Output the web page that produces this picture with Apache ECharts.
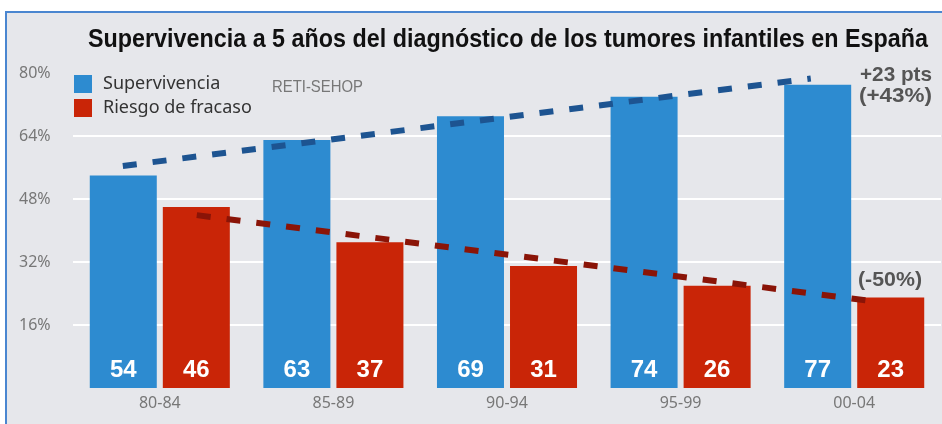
<!DOCTYPE html>
<html>
<head>
<meta charset="utf-8">
<script src="https://cdn.jsdelivr.net/npm/echarts@6/dist/echarts.min.js"></script>
<style>
html,body{margin:0;padding:0;background:#fff;}
#c{width:942px;height:424px;}
</style>
</head>
<body>
<div id="c"></div>
<script>
const categories = ['80-84', '85-89', '90-94', '95-99', '00-04'];
const supervivencia = [54, 63, 69, 74, 77];
const riesgo = [46, 37, 31, 26, 23];
const yTicks = [0, 16, 32, 48, 64, 80];
// trend annotations: [category position, value]
const trendSurv = [[0.287, 56.4], [4.25, 78.6]];
const trendRisk = [[0.713, 43.9], [4.65, 21.8]];
const titleText = 'Supervivencia a 5 años del diagnóstico de los tumores infantiles en España';
const sourceText = 'RETI-SEHOP';
const noteSurv = ['+23 pts', '(+43%)'];
const noteRisk = '(-50%)';

const sans = '"Liberation Sans", Arial, sans-serif';
const ctx = document.createElement('canvas').getContext('2d');
function fitText(text, font, width, left, midY, fill) {
  ctx.font = font;
  const w = ctx.measureText(text).width;
  return {type: 'text', x: left, y: midY, scaleX: width / w, originX: 0,
    style: {text: text, font: font, fill: fill, textVerticalAlign: 'middle'}};
}

const chart = echarts.init(document.getElementById('c'), null, {renderer: 'canvas'});
const gridLeft = 73, gridTop = 73, gridBottom = 36, gridRight = 1;

chart.setOption({
  backgroundColor: '#ffffff',
  animation: false,
  graphic: [
    {type: 'rect', z: -10, silent: true, shape: {x: 6, y: 12, width: 945, height: 420},
     style: {fill: '#e6e7eb', stroke: '#4a86d0', lineWidth: 2}},
    fitText(titleText, 'bold 25px ' + sans, 840, 88, 40, '#111'),
    fitText(sourceText, '17px ' + sans, 91, 272, 87, '#777'),
    fitText(noteSurv[0], 'bold 21px ' + sans, 72, 860, 75, '#555'),
    fitText(noteSurv[1], 'bold 21px ' + sans, 73, 859, 96, '#555'),
    fitText(noteRisk, 'bold 21px ' + sans, 64, 858, 280, '#555')
  ],
  legend: {
    orient: 'vertical', left: 74, top: 75, itemWidth: 18, itemHeight: 18, itemGap: 6,
    padding: 0, icon: 'rect',
    textStyle: {fontFamily: '"Noto Sans", sans-serif', fontSize: 18, color: '#333', padding: [0, 0, 0, 6]},
    data: ['Supervivencia', 'Riesgo de fracaso']
  },
  grid: {left: gridLeft, right: gridRight, top: gridTop, bottom: gridBottom, containLabel: false},
  xAxis: [
    {type: 'category', data: categories, axisLine: {show: false}, axisTick: {show: false},
     axisLabel: {color: '#777', fontSize: 16, fontFamily: '"Noto Sans", sans-serif', margin: 7}},
    {type: 'value', min: 0, max: 5, show: false}
  ],
  yAxis: {
    type: 'value', min: yTicks[0], max: yTicks[yTicks.length - 1], interval: 16,
    axisLine: {show: false}, axisTick: {show: false},
    axisLabel: {formatter: v => v === 0 ? '' : v + '%', color: '#777', fontSize: 16,
      fontFamily: '"Noto Sans", sans-serif', align: 'left', margin: 54},
    splitLine: {show: true, lineStyle: {color: ['transparent', '#ffffff', '#ffffff', '#ffffff', '#ffffff', 'transparent'], width: 2}}
  },
  series: [
    {name: 'Supervivencia', type: 'bar', data: supervivencia, barWidth: '38.6%', barGap: '9%',
     itemStyle: {color: '#2d8bd0'},
     label: {show: true, position: 'insideBottom', distance: 6, color: '#fff', fontSize: 24,
       fontWeight: 'bold', fontFamily: sans}},
    {name: 'Riesgo de fracaso', type: 'bar', data: riesgo, barWidth: '38.6%',
     itemStyle: {color: '#c92507'},
     label: {show: true, position: 'insideBottom', distance: 6, color: '#fff', fontSize: 24,
       fontWeight: 'bold', fontFamily: sans}},
    {type: 'line', xAxisIndex: 1, data: trendSurv, symbol: 'none', z: 5,
     lineStyle: {color: '#1d5491', width: 6, type: [14, 16]}},
    {type: 'line', xAxisIndex: 1, data: trendRisk, symbol: 'none', z: 5,
     lineStyle: {color: '#8a1407', width: 6, type: [14, 16]}}
  ]
});
</script>
</body>
</html>
